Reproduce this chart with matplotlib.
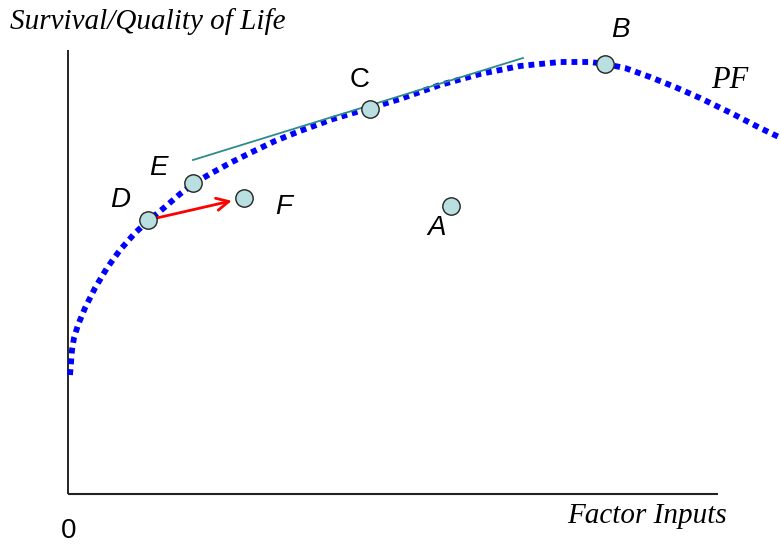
import matplotlib
matplotlib.use("Agg")
import matplotlib.pyplot as plt

# Production frontier (data units: origin at the axes corner)
curve_x = [2, 3, 4, 6, 10, 17, 27, 39, 52, 67, 80, 97, 112, 125, 142, 162, 182, 207, 232, 265,
           302, 332, 372, 412, 452, 492, 522, 537, 557, 582, 607, 632, 665, 692, 713]
curve_y = [119, 131, 144, 156, 169, 186, 206, 226, 244, 261, 273, 287, 300, 310, 320, 331, 341, 353, 363, 375,
           386, 395, 409, 420, 428, 432, 432, 430, 426, 417, 407, 396, 380, 366, 356]

point_names = ["A", "B", "C", "D", "E", "F"]
point_x = [383, 537, 302, 80, 125, 176]
point_y = [288, 430, 385, 274, 311, 296]

label_x = [369, 552, 292, 52, 90, 216]
label_y = [266, 464, 414, 294, 326, 287]
label_italic = [True, True, False, True, True, True]

tangent_x = [125, 455]
tangent_y = [334, 436]

fig = plt.figure(figsize=(7.81, 5.46), dpi=100)
ax = fig.add_axes([0, 0, 1, 1])
ax.set_xlim(-68, 713)
ax.set_ylim(-52, 494)
ax.axis("off")

# axes lines
ax.plot([0, 0], [0, 444], color="black", lw=1.2, solid_capstyle="butt")
ax.plot([0, 650], [0, 0], color="#222222", lw=1.5, solid_capstyle="butt")

# frontier
ax.plot(curve_x, curve_y, color="#0000ff", lw=4.2, linestyle=(0, (1, 0.85)),
        dash_capstyle="butt", solid_joinstyle="round")

# tangent line
ax.plot(tangent_x, tangent_y, color="#2e8b8b", lw=1.3)

# red arrow D -> F
ax.annotate("", xy=(point_x[5], point_y[5]), xytext=(point_x[3], point_y[3]),
            arrowprops=dict(arrowstyle="->", color="red", lw=2, shrinkA=6, shrinkB=9,
                            mutation_scale=22))

# points
ax.plot(point_x, point_y, linestyle="none", marker="o", markersize=12.5,
        markerfacecolor="#b9dfe0", markeredgecolor="#222222", markeredgewidth=1.0, zorder=5)

for name, lx, ly, it in zip(point_names, label_x, label_y, label_italic):
    ax.text(lx, ly, name, fontsize=20, family="Liberation Sans",
            style="italic" if it else "normal", ha="center", va="center")

ax.text(662, 414, "PF", fontsize=22, family="Liberation Serif", style="italic",
        ha="center", va="center")
ax.text(-58, 472, "Survival/Quality of Life", fontsize=21, family="Liberation Serif",
        style="italic", ha="left", va="center")
ax.text(579, -22, "Factor Inputs", fontsize=21, family="Liberation Serif",
        style="italic", ha="center", va="center")
ax.text(1, -37, "0", fontsize=20, family="Liberation Sans", ha="center", va="center")

fig.savefig("out.png", dpi=100)
